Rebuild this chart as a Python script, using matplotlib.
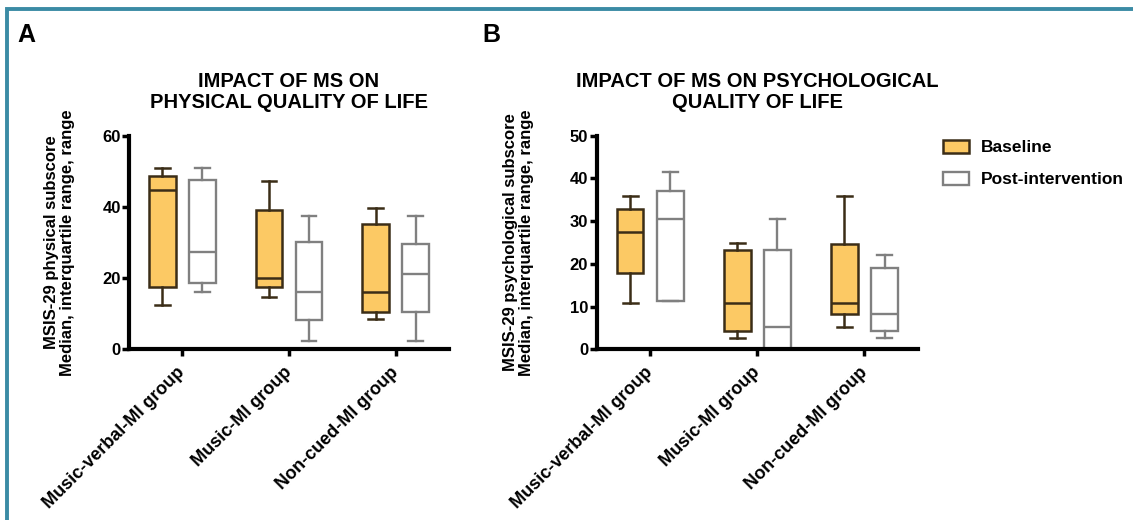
"""
plot.py

MSIS-29 physical / psychological subscores per group, baseline vs post-intervention.
Box = interquartile range, line = median, whiskers = range.
"""

import matplotlib
matplotlib.use("Agg")
import matplotlib.pyplot as plt
from matplotlib.patches import Patch, Rectangle


# ---------------------------------------------------------------------------
# Data: (min, Q1, median, Q3, max) per group
# ---------------------------------------------------------------------------

GROUPS = ["Music-verbal-MI group", "Music-MI group", "Non-cued-MI group"]

PHYS_BASELINE = [(12.3, 17.6, 44.8, 48.8, 51.0),
                 (14.8, 17.6, 19.9, 39.0, 47.3),
                 (8.4, 10.6, 16.0, 35.1, 39.8)]
PHYS_POST = [(16.0, 18.7, 27.2, 47.6, 51.0),
             (2.3, 8.1, 16.0, 30.1, 37.3),
             (2.3, 10.6, 21.1, 29.6, 37.3)]

PSYCH_BASELINE = [(10.9, 17.9, 27.5, 32.9, 35.9),
                  (2.6, 4.2, 10.9, 23.2, 24.8),
                  (5.3, 8.3, 10.9, 24.6, 35.9)]
PSYCH_POST = [(11.2, 11.2, 30.4, 37.1, 41.5),
              (0.0, 0.0, 5.3, 23.2, 30.4),
              (2.6, 4.2, 8.2, 19.1, 22.1)]

PHYS_TICKS = [0, 20, 40, 60]
PSYCH_TICKS = [0, 10, 20, 30, 40, 50]

# style
FILL_BASE = "#fcc964"
EDGE_BASE = "#3b2d17"
EDGE_POST = "#808080"
FRAME = "#3b8ba5"
OFFSET = 0.1875
BOX_W = 0.25

plt.rcParams["font.family"] = ["Liberation Sans", "DejaVu Sans"]
plt.rcParams["font.weight"] = "bold"


def to_stats(summary):
    return [dict(whislo=lo, q1=q1, med=med, q3=q3, whishi=hi, fliers=[])
            for lo, q1, med, q3, hi in summary]


def draw_boxes(ax, summary, offset, face, edge, lw):
    pos = [i + offset for i in range(len(summary))]
    ax.bxp(to_stats(summary), positions=pos, widths=BOX_W, capwidths=0.14,
           patch_artist=True, showfliers=False,
           boxprops=dict(facecolor=face, edgecolor=edge, linewidth=lw),
           medianprops=dict(color=edge, linewidth=lw),
           whiskerprops=dict(color=edge, linewidth=lw),
           capprops=dict(color=edge, linewidth=lw))


def panel(ax, baseline, post, ticks, title, ylabel, label_x):
    draw_boxes(ax, baseline, -OFFSET, FILL_BASE, EDGE_BASE, 1.8)
    draw_boxes(ax, post, OFFSET, "white", EDGE_POST, 1.7)

    ax.set_xlim(-0.5, len(GROUPS) - 0.5)
    ax.set_ylim(ticks[0], ticks[-1])
    ax.set_yticks(ticks)
    ax.set_xticks(range(len(GROUPS)))
    ax.set_xticklabels(GROUPS, rotation=45, ha="right", va="center",
                       rotation_mode="anchor", fontsize=13, fontweight="bold")
    for lbl in ax.get_yticklabels():
        lbl.set_fontsize(12)
        lbl.set_fontweight("bold")

    for side in ("top", "right"):
        ax.spines[side].set_visible(False)
    for side in ("left", "bottom"):
        ax.spines[side].set_linewidth(3.0)
    ax.tick_params(axis="both", width=2.5, length=5, direction="out", pad=1)
    ax.tick_params(axis="x", pad=10)

    ax.set_title(title, fontsize=14.5, fontweight="bold", pad=20, linespacing=1.12)
    ax.set_ylabel(ylabel, fontsize=12, fontweight="bold", linespacing=1.05)
    ax.yaxis.set_label_coords(label_x, 0.5)


def main():
    fig = plt.figure(figsize=(11.33, 5.2), dpi=100)

    ax_a = fig.add_axes([0.1139, 0.3283, 0.2824, 0.4108])
    ax_b = fig.add_axes([0.5265, 0.3283, 0.2838, 0.4108])

    panel(ax_a, PHYS_BASELINE, PHYS_POST, PHYS_TICKS,
          "IMPACT OF MS ON\nPHYSICAL QUALITY OF LIFE",
          "MSIS-29 physical subscore\nMedian, interquartile range, range", -0.17)
    panel(ax_b, PSYCH_BASELINE, PSYCH_POST, PSYCH_TICKS,
          "IMPACT OF MS ON PSYCHOLOGICAL\nQUALITY OF LIFE",
          "MSIS-29 psychological subscore\nMedian, interquartile range, range", -0.195)

    # legend
    handles = [Patch(facecolor=FILL_BASE, edgecolor=EDGE_BASE, linewidth=1.8),
               Patch(facecolor="white", edgecolor=EDGE_POST, linewidth=1.7)]
    fig.legend(handles, ["Baseline", "Post-intervention"], loc="upper left",
               bbox_to_anchor=(943 / 1133, 1 - 140 / 520), frameon=False,
               borderpad=0, borderaxespad=0, handlelength=1.5, handleheight=0.75,
               handletextpad=0.7, labelspacing=0.95,
               prop=dict(size=12.5, weight="bold"))

    # panel letters
    fig.text(17 / 1133, 1 - 35 / 520, "A", fontsize=18, fontweight="bold", va="center")
    fig.text(482 / 1133, 1 - 35 / 520, "B", fontsize=18, fontweight="bold", va="center")

    # teal frame (top and left edges visible)
    fig.add_artist(Rectangle((7 / 1133, -0.1), 1.2, 1 - 9 / 520 + 0.1,
                             transform=fig.transFigure, fill=False,
                             edgecolor=FRAME, linewidth=2.8))

    fig.savefig("out.png", dpi=100)
    plt.close(fig)


if __name__ == "__main__":
    main()
